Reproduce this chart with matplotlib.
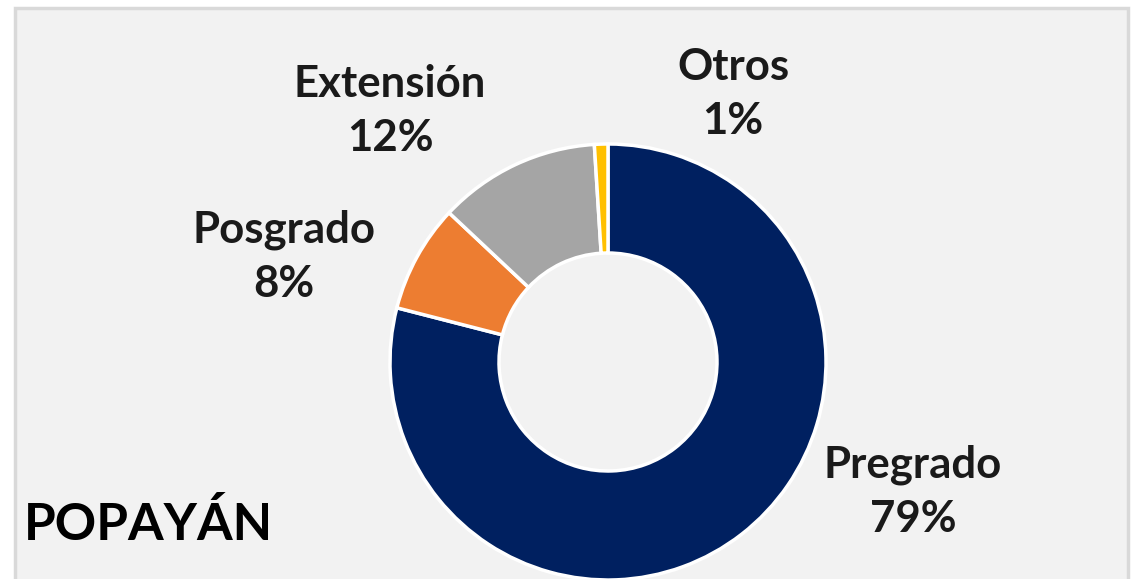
import matplotlib.pyplot as plt
from matplotlib.patches import Rectangle

# Datos
categorias = ["Pregrado", "Posgrado", "Extensión", "Otros"]
porcentajes = [79, 8, 12, 1]
colores = ["#002060", "#ED7D31", "#A5A5A5", "#FFC000"]
titulo = "POPAYÁN"

W, H = 1135, 579
fig = plt.figure(figsize=(W / 100, H / 100), dpi=100)
fig.patch.set_facecolor("white")
ax = fig.add_axes([0, 0, 1, 1])

# marco del gráfico
ax.add_patch(Rectangle((14.5, -20), 1113, H - 7.5 + 20, facecolor="#F2F2F2",
                       edgecolor="#D9D9D9", linewidth=2.5, zorder=0))

cx, cy, r = 608, H - 362, 218
ax.pie(porcentajes, colors=colores, startangle=90, counterclock=False,
       center=(cx, cy), radius=r, frame=True,
       wedgeprops=dict(width=r * 0.5, edgecolor="white", linewidth=2.5))
ax.set_xlim(0, W)
ax.set_ylim(0, H)
ax.set_aspect("equal")
ax.axis("off")

fuente = "Lato"
# posiciones de etiquetas (pixeles)
pos = {"Pregrado": (913, 492), "Posgrado": (284, 257),
       "Extensión": (390, 111), "Otros": (733, 94)}
for cat, p in zip(categorias, porcentajes):
    x, y = pos[cat]
    ax.text(x, H - y, f"{cat}\n{p}%", ha="center", va="center",
            fontsize=31.5, fontweight="bold", family=fuente,
            linespacing=1.42, color="#1a1a1a")

ax.text(24, H - 525, titulo, ha="left", va="center", fontsize=37,
        fontweight="bold", family=fuente, color="black")

fig.savefig("out.png", dpi=100)
